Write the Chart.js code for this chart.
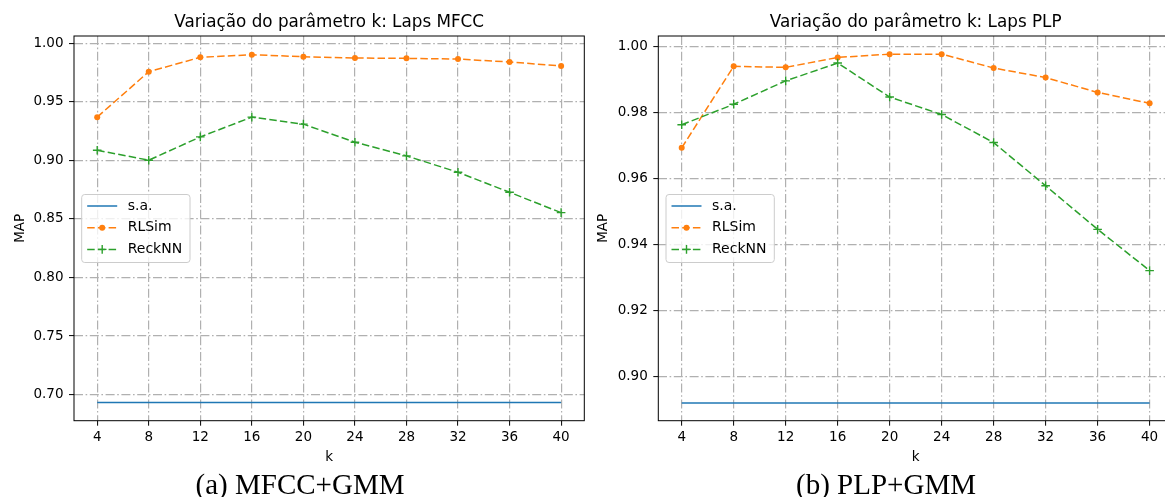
<!DOCTYPE html>
<html>
<head>
<meta charset="utf-8">
<script src="https://cdn.jsdelivr.net/npm/chart.js@4.4.1/dist/chart.umd.min.js"></script>
<style>
  html, body { margin: 0; padding: 0; background: #fff; }
  body { width: 1165px; height: 497px; overflow: hidden; position: relative; }
  canvas { position: absolute; top: 0; }
  #chartA { left: 0; }
  #chartB { left: 590px; }
  .caption {
    position: absolute; top: 470px;
    font-family: 'Liberation Serif', serif; font-size: 29px; line-height: 29px;
    white-space: nowrap; transform: translateX(-50%); color: #000;
  }
</style>
</head>
<body>
<canvas id="chartA" width="590" height="497"></canvas>
<canvas id="chartB" width="590" height="497"></canvas>
<div class="caption" style="left:300px">(a) MFCC+GMM</div>
<div class="caption" style="left:886px">(b) PLP+GMM</div>
<script>
const kValues = [4, 8, 12, 16, 20, 24, 28, 32, 36, 40];
const seriesNames = ['s.a.', 'RLSim', 'ReckNN'];

// (a) MFCC+GMM
const mfccSa     = [0.6932, 0.6932, 0.6932, 0.6932, 0.6932, 0.6932, 0.6932, 0.6932, 0.6932, 0.6932];
const mfccRLSim  = [0.9370, 0.9758, 0.9881, 0.9903, 0.9886, 0.9875, 0.9872, 0.9866, 0.9841, 0.9807];
const mfccReckNN = [0.9087, 0.9002, 0.9201, 0.9370, 0.9310, 0.9156, 0.9039, 0.8899, 0.8728, 0.8554];
const mfccTicks  = [0.70, 0.75, 0.80, 0.85, 0.90, 0.95, 1.00];

// (b) PLP+GMM
const plpSa     = [0.8920, 0.8920, 0.8920, 0.8920, 0.8920, 0.8920, 0.8920, 0.8920, 0.8920, 0.8920];
const plpRLSim  = [0.9693, 0.9940, 0.9937, 0.9967, 0.9977, 0.9977, 0.9935, 0.9906, 0.9861, 0.9828];
const plpReckNN = [0.9763, 0.9825, 0.9896, 0.9950, 0.9847, 0.9794, 0.9709, 0.9578, 0.9446, 0.9321];
const plpTicks  = [0.90, 0.92, 0.94, 0.96, 0.98, 1.00];

Chart.defaults.font.family = "'DejaVu Sans', sans-serif";
Chart.defaults.color = '#000';

const gridDash = [9, 2.6, 1.6, 2.6];

// legend box drawn inside the plot area, matplotlib style
const boxLegend = {
  id: 'boxLegend',
  afterDatasetsDraw(chart) {
    const ctx = chart.ctx;
    const x0 = chart.chartArea.left + 7.7, y0 = 194.5;
    ctx.save();
    ctx.beginPath();
    ctx.roundRect(x0, y0, 108.3, 68, 3);
    ctx.fillStyle = 'rgba(255,255,255,0.8)';
    ctx.fill();
    ctx.strokeStyle = '#cccccc';
    ctx.lineWidth = 1;
    ctx.stroke();
    chart.data.datasets.forEach((ds, i) => {
      const y = y0 + 11.5 + i * 21.7;
      ctx.setLineDash(ds.borderDash || []);
      ctx.strokeStyle = ds.borderColor;
      ctx.lineWidth = ds.borderWidth;
      ctx.beginPath();
      ctx.moveTo(x0 + 5.5, y);
      ctx.lineTo(x0 + 35.5, y);
      ctx.stroke();
      ctx.setLineDash([]);
      const mx = x0 + 20.5;
      if (ds.pointStyle === 'circle' && ds.pointRadius > 0) {
        ctx.beginPath();
        ctx.arc(mx, y, ds.pointRadius, 0, Math.PI * 2);
        ctx.fillStyle = ds.pointBackgroundColor;
        ctx.fill();
      } else if (ds.pointStyle === 'cross') {
        const r = ds.pointRadius;
        ctx.lineWidth = ds.pointBorderWidth;
        ctx.strokeStyle = ds.pointBorderColor;
        ctx.beginPath();
        ctx.moveTo(mx - r, y); ctx.lineTo(mx + r, y);
        ctx.moveTo(mx, y - r); ctx.lineTo(mx, y + r);
        ctx.stroke();
      }
      ctx.fillStyle = '#000';
      ctx.font = "14px 'DejaVu Sans'";
      ctx.textBaseline = 'middle';
      ctx.textAlign = 'left';
      ctx.fillText(ds.label, x0 + 46, y);
    });
    ctx.restore();
  }
};

// black frame round the axes
const frame = {
  id: 'frame',
  afterDraw(chart) {
    const {left, top, right, bottom} = chart.chartArea;
    const ctx = chart.ctx;
    ctx.save();
    ctx.strokeStyle = '#000';
    ctx.lineWidth = 1;
    ctx.strokeRect(left, top, right - left, bottom - top);
    ctx.restore();
  }
};

function makeDatasets(sa, rl, rk) {
  const pts = arr => kValues.map((k, i) => ({x: k, y: arr[i]}));
  return [
    {label: seriesNames[0], data: pts(sa), borderColor: '#1f77b4', borderWidth: 1.5,
     pointRadius: 0, order: 3},
    {label: seriesNames[1], data: pts(rl), borderColor: '#ff7f0e', borderWidth: 1.5,
     borderDash: [7.5, 3.2], pointStyle: 'circle', pointRadius: 3,
     pointBackgroundColor: '#ff7f0e', pointBorderColor: '#ff7f0e', pointBorderWidth: 0, order: 2},
    {label: seriesNames[2], data: pts(rk), borderColor: '#2ca02c', borderWidth: 1.5,
     borderDash: [7.5, 3.2], pointStyle: 'cross', pointRadius: 4.3,
     pointBackgroundColor: '#2ca02c', pointBorderColor: '#2ca02c', pointBorderWidth: 1.4, order: 1}
  ];
}

function buildChart(id, datasets, yMin, yMax, yTicks, titleText, yAxisWidth, padRight, yTitlePad) {
  return new Chart(document.getElementById(id), {
    type: 'line',
    data: {datasets},
    options: {
      responsive: false,
      animation: false,
      events: [],
      layout: {padding: {left: 0, right: padRight, top: 0, bottom: 26.3}},
      elements: {line: {tension: 0}},
      scales: {
        x: {
          type: 'linear', min: 2.2, max: 41.8,
          afterBuildTicks: s => { s.ticks = kValues.map(v => ({value: v})); },
          afterFit: s => { s.height = 50; },
          ticks: {font: {size: 13.5}, padding: 3.5, autoSkip: false, maxRotation: 0,
                  callback: v => String(v)},
          grid: {color: '#b0b0b0', lineWidth: 1.2, tickLength: 5, tickColor: '#000', tickWidth: 1},
          border: {display: false, dash: gridDash},
          title: {display: true, text: 'k', font: {size: 13.5}, padding: {top: 0, bottom: 5.6}}
        },
        y: {
          type: 'linear', min: yMin, max: yMax,
          afterBuildTicks: s => { s.ticks = yTicks.map(v => ({value: v})); },
          afterFit: s => { s.width = yAxisWidth; },
          ticks: {font: {size: 13.5}, padding: 5.5, autoSkip: false,
                  callback: v => v.toFixed(2)},
          grid: {color: '#b0b0b0', lineWidth: 1.2, tickLength: 5, tickColor: '#000', tickWidth: 1},
          border: {display: false, dash: gridDash},
          title: {display: true, text: 'MAP', font: {size: 13.5}, padding: {top: yTitlePad, bottom: 0}}
        }
      },
      plugins: {
        legend: {display: false},
        tooltip: {enabled: false},
        title: {display: true, text: titleText, fullSize: false, color: '#000',
                font: {size: 16.8, weight: 'normal'}, padding: {top: 12.4, bottom: 3.44}}
      }
    },
    plugins: [boxLegend, frame]
  });
}

buildChart('chartA', makeDatasets(mfccSa, mfccRLSim, mfccReckNN), 0.6777, 1.0063, mfccTicks,
           'Variação do parâmetro k: Laps MFCC', 74, 1.3, 11.9);
buildChart('chartB', makeDatasets(plpSa, plpRLSim, plpReckNN), 0.8866, 1.0032, plpTicks,
           'Variação do parâmetro k: Laps PLP', 68.3, 7, 4.9);
</script>
</body>
</html>
